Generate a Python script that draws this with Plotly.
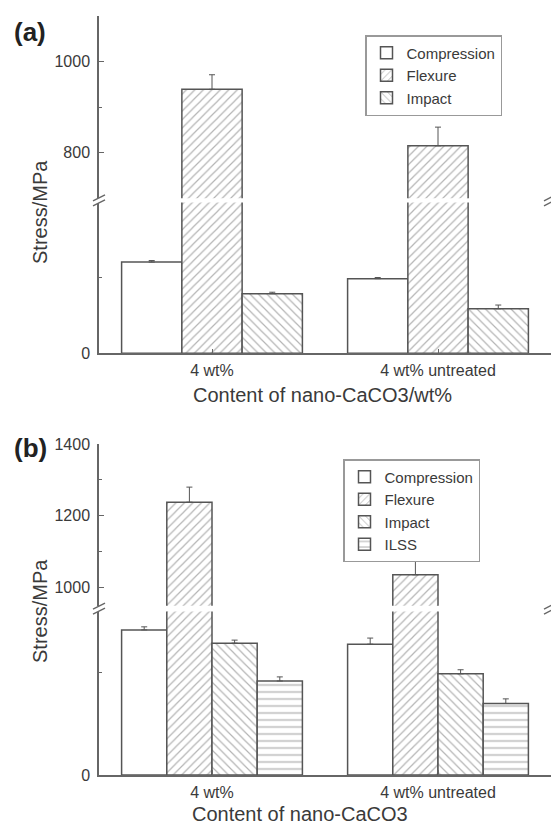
import plotly.graph_objects as go

# ---------------- data ----------------
categories = ["4 wt%", "4 wt% untreated"]

# Panel (a)
a_names = ["Compression", "Flexure", "Impact"]
a_compression = [121, 99]
a_compression_err = [2, 1.5]
a_flexure = [939, 815]
a_flexure_err = [32, 41]
a_impact = [79, 59]
a_impact_err = [2, 5]

# Panel (b)
b_names = ["Compression", "Flexure", "Impact", "ILSS"]
b_compression = [142, 128]
b_compression_err = [3, 6]
b_flexure = [1238, 1036]
b_flexure_err = [42, 38]
b_impact = [129, 99]
b_impact_err = [3, 4]
b_ilss = [92, 70]
b_ilss_err = [4, 4.5]

# broken-axis segments
a_lower_range = [0, 200]
a_upper_range = [700, 1100]
b_lower_range = [0, 160]
b_upper_range = [950, 1400]

a_upper_ticks = [800, 1000]
a_upper_minor = [900]
a_lower_minor = [100]
b_upper_ticks = [1000, 1200, 1400]
b_upper_minor = [1100, 1300]
b_lower_minor = [100]

x_title_a = "Content of nano-CaCO3/wt%"
x_title_b = "Content of nano-CaCO3"
y_title = "Stress/MPa"

# ---------------- style ----------------
W, H = 551, 825
ML, MR = 99, 0
PW = W - ML - MR
FONT = "Liberation Sans, Arial, sans-serif"
LINE = "#666666"
EDGE = "#555555"
TXT = "#3a3a3a"

patterns = {"Compression": "", "Flexure": "/", "Impact": "\\", "ILSS": "-"}
pattern_size = {"Compression": 6, "Flexure": 6, "Impact": 6, "ILSS": 7}


def px_x(p):
    return (p - ML) / PW


def px_y(p):
    return 1 - p / H


fig = go.Figure()


def add_series(name, vals, errs, xa, ya_low, ya_up, rlow, rup, legend):
    for ya, rng, show in ((ya_low, rlow, True), (ya_up, rup, False)):
        e = [err if rng[0] < v <= rng[1] else None for v, err in zip(vals, errs)]
        fig.add_trace(go.Bar(
            x=categories, y=vals, name=name, xaxis=xa, yaxis=ya,
            legend=legend, showlegend=show,
            marker=dict(color="white",
                        line=dict(color=EDGE, width=1.5),
                        pattern=dict(shape=patterns[name], size=pattern_size[name],
                                     solidity=0.2, fgcolor="#6a6a6a", bgcolor="white")),
            error_y=dict(type="data", symmetric=False, array=e,
                         arrayminus=[0] * len(e), color=EDGE, thickness=1, width=3),
        ))


for n, v, e in zip(a_names, [a_compression, a_flexure, a_impact],
                   [a_compression_err, a_flexure_err, a_impact_err]):
    add_series(n, v, e, "x", "y", "y2", a_lower_range, a_upper_range, "legend")

for n, v, e in zip(b_names, [b_compression, b_flexure, b_impact, b_ilss],
                   [b_compression_err, b_flexure_err, b_impact_err, b_ilss_err]):
    add_series(n, v, e, "x3", "y3", "y4", b_lower_range, b_upper_range, "legend2")

# pixel layout of segments
a_up = (16, 198.2)
a_lo = (202.5, 353.3)
b_up = (444, 605.7)
b_lo = (611.5, 775)

tickfont = dict(family=FONT, size=16, color=TXT)

yax_common = dict(showline=True, linecolor=LINE, linewidth=1.5, ticks="inside",
                  ticklen=5, tickwidth=1.2, tickcolor=LINE, tickfont=tickfont,
                  showgrid=False, zeroline=False, ticklabelstandoff=4, fixedrange=True,
                  automargin=False)


def yaxis(domain_px, rng, tickvals, minor, mirror):
    d = dict(yax_common)
    d.update(domain=[px_y(domain_px[1]), px_y(domain_px[0])], range=rng,
             tickmode="array", tickvals=tickvals,
             minor=dict(tickmode="array", tickvals=minor, ticks="inside",
                        ticklen=3, tickcolor=LINE),
             mirror=mirror)
    return d


xax_common = dict(type="category", range=[-0.5, 1.5], showline=True, linecolor=LINE,
                  linewidth=1.5, ticks="inside", ticklen=5, tickcolor=LINE,
                  tickfont=tickfont, showgrid=False, zeroline=False, fixedrange=True,
                  ticklabelstandoff=2, automargin=False)

top_frame = dict(domain=[0, 1], range=[0, 1], showline=True, linecolor=LINE,
                 linewidth=1.5, side="top", showticklabels=False, ticks="",
                 showgrid=False, zeroline=False, automargin=False)

legend_common = dict(xanchor="left", yanchor="top", bgcolor="white",
                     bordercolor="#999999", borderwidth=1.5,
                     font=dict(family=FONT, size=15, color=TXT), tracegroupgap=0,
                     itemwidth=30, traceorder="normal")

fig.update_layout(
    width=W, height=H,
    margin=dict(l=ML, r=MR, t=0, b=0, autoexpand=False),
    paper_bgcolor="white", plot_bgcolor="white",
    barmode="group", bargap=0.2, bargroupgap=0,
    font=dict(family=FONT, color=TXT),
    xaxis=dict(xax_common, anchor="y", domain=[0, 1]),
    xaxis2=dict(top_frame, anchor="y2"),
    yaxis=yaxis(a_lo, a_lower_range, [0], a_lower_minor, False),
    yaxis2=dict(yaxis(a_up, a_upper_range, a_upper_ticks, a_upper_minor, False), anchor="x"),
    xaxis3=dict(xax_common, anchor="y3", domain=[0, 1]),
    xaxis4=dict(top_frame, anchor="y4"),
    yaxis3=dict(yaxis(b_lo, b_lower_range, [0], b_lower_minor, True), anchor="x3"),
    yaxis4=dict(yaxis(b_up, b_upper_range, b_upper_ticks, b_upper_minor, True), anchor="x3"),
    legend=dict(legend_common, x=px_x(365), y=px_y(35)),
    legend2=dict(legend_common, x=px_x(343), y=px_y(459)),
    showlegend=True,
)

ann = []
for txt, xp, yp in (("(a)", 30, 32), ("(b)", 30, 448)):
    ann.append(dict(text="<b>" + txt + "</b>", x=px_x(xp), y=px_y(yp), xref="paper",
                    yref="paper", showarrow=False,
                    font=dict(family=FONT, size=26, color="#222222"),
                    xanchor="center", yanchor="middle"))
for yp in (212, 611):
    ann.append(dict(text=y_title, x=px_x(40), y=px_y(yp), xref="paper", yref="paper",
                    showarrow=False, textangle=-90,
                    font=dict(family=FONT, size=20, color=TXT),
                    xanchor="center", yanchor="middle"))
ann.append(dict(text=x_title_a, x=px_x(322), y=px_y(395), xref="paper", yref="paper",
                showarrow=False, font=dict(family=FONT, size=20, color=TXT),
                xanchor="center", yanchor="middle"))
ann.append(dict(text=x_title_b, x=px_x(300), y=px_y(814), xref="paper", yref="paper",
                showarrow=False, font=dict(family=FONT, size=20, color=TXT),
                xanchor="center", yanchor="middle"))
fig.update_layout(annotations=ann)

# break marks ("//") on the axes at the segment gaps
shapes = []
for gap_top, gap_bot in ((a_up[1], a_lo[0]), (b_up[1], b_lo[0])):
    yc = (gap_top + gap_bot) / 2
    for xc in (0, PW - 1):
        for dy in (-2.5, 2.5):
            shapes.append(dict(type="line", xref="paper", yref="paper",
                               x0=(xc - 6) / PW, x1=(xc + 6) / PW,
                               y0=px_y(yc + dy + 3), y1=px_y(yc + dy - 3),
                               line=dict(color=LINE, width=1.3)))
fig.update_layout(shapes=shapes)

fig.write_html("out.html", config={"displayModeBar": False},
               post_script="document.body.style.margin='0';document.body.style.padding='0';")
